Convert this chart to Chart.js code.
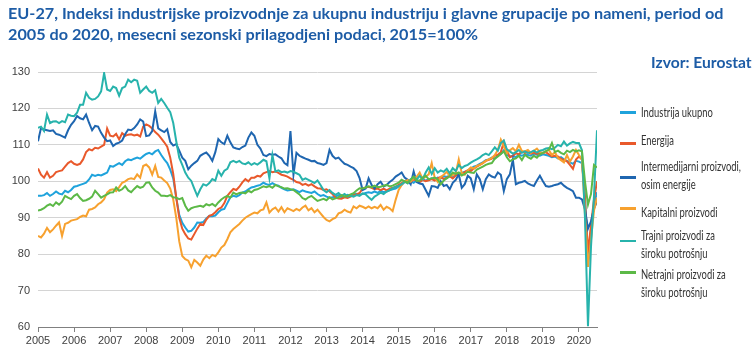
<!DOCTYPE html>
<html>
<head>
<meta charset="utf-8">
<script src="https://cdn.jsdelivr.net/npm/chart.js@4.4.1/dist/chart.umd.min.js"></script>
<style>
  html, body { margin: 0; padding: 0; background: #fff; }
  #wrap { position: relative; width: 756px; height: 358px; overflow: hidden; }
  #chart { position: absolute; left: 0; top: 0; }
  .title { position: absolute; left: 8px; top: 3px; color: #1d5ca6; font: bold 15px Lato, "Open Sans", sans-serif; line-height: 21px; white-space: nowrap; transform-origin: left top; }
  .title span { display: inline-block; }
  .source { position: absolute; right: 4px; top: 52px; color: #1d5ca6; font: bold 15px Lato, "Open Sans", sans-serif; line-height: 20px; white-space: nowrap; transform-origin: right top; }
  .lg-line { position: absolute; left: 620px; width: 16px; height: 2.5px; }
  .lg-text { position: absolute; left: 641px; color: #333; font: 12.5px Lato, "Open Sans", sans-serif; line-height: 18.4px; white-space: nowrap; transform-origin: left top; }
  .lg-text span { display: inline-block; }
</style>
</head>
<body>
<div id="wrap">
  <canvas id="chart" width="756" height="358"></canvas>
  <div class="title" id="title"><span id="t1">EU-27, Indeksi industrijske proizvodnje za ukupnu industriju i glavne grupacije po nameni, period od</span><br><span>2005 do 2020, mesecni sezonski prilagodjeni podaci, 2015=100%</span></div>
  <div class="source" id="source">Izvor: Eurostat</div>
  <div id="legend"></div>
</div>
<script>
// tick labels on the x axis (one per January)
const years = [2005, 2006, 2007, 2008, 2009, 2010, 2011, 2012, 2013, 2014, 2015, 2016, 2017, 2018, 2019, 2020];

// monthly values Jan 2005 - Jul 2020
const industrija = [
  96.0, 96.0, 96.2, 96.8, 96.0, 96.5, 97.2, 96.6, 96.4, 97.4, 97.0, 97.6,
  98.5, 98.7, 99.0, 99.3, 99.6, 100.5, 101.8, 101.5, 101.8, 101.6, 102.0, 102.4,
  104.2, 104.0, 104.5, 105.0, 104.5, 105.5, 106.0, 105.8, 106.2, 106.5, 106.2, 106.9,
  107.5, 107.8, 107.4, 108.2, 108.6, 107.2, 106.0, 105.0, 103.2, 100.8, 95.5, 90.8,
  88.6, 87.3, 86.2, 86.4, 87.3, 88.7, 88.6, 88.8, 89.8, 90.5, 90.4, 90.6,
  91.5, 92.2, 92.4, 94.0, 95.6, 96.0, 95.8, 96.2, 96.9, 97.2, 97.8, 98.3,
  98.5, 98.8, 99.0, 99.6, 99.2, 99.0, 99.5, 99.0, 98.8, 98.2, 97.8, 97.5,
  97.6, 97.8, 97.4, 97.0, 97.5, 97.2, 97.0, 96.8, 97.2, 96.5, 96.0, 96.2,
  95.8, 95.5, 95.6, 95.8, 96.2, 95.6, 95.8, 96.3, 96.0, 96.4, 96.6, 96.3,
  96.5, 96.8, 97.0, 96.8, 97.2, 96.8, 97.4, 97.0, 97.2, 97.5, 97.8, 98.0,
  98.5, 99.0, 99.8, 100.2, 100.0, 99.6, 100.3, 100.0, 100.6, 100.2, 100.5, 100.8,
  100.6, 101.0, 100.8, 101.4, 101.2, 101.6, 101.0, 101.8, 102.0, 102.3, 102.6, 103.0,
  103.5, 104.0, 104.3, 104.8, 105.2, 105.8, 106.0, 106.5, 106.2, 107.0, 107.5, 108.5,
  107.2, 106.8, 107.0, 106.6, 107.3, 107.0, 107.4, 107.2, 107.0, 107.6, 107.3, 107.0,
  107.4, 107.2, 107.0, 106.6, 106.8, 106.3, 106.6, 106.0, 105.6, 105.2, 104.8, 105.6,
  105.4, 105.0, 96.0, 78.0, 87.0, 93.5, 97.0
];
const energija = [
  103.5, 101.8, 101.0, 102.5, 101.0, 101.5, 102.5, 102.8, 103.0, 104.0, 105.0, 105.5,
  104.8, 104.5, 104.8, 106.0, 108.0, 108.8, 108.5, 109.2, 109.0, 109.5, 110.0, 114.5,
  112.5, 112.3, 113.0, 111.5, 113.2, 112.5, 112.8, 112.9, 112.6, 112.8, 112.3, 115.0,
  115.6, 115.2, 114.5, 113.5, 112.8, 111.8, 110.7, 109.5, 106.5, 102.0, 95.5, 90.0,
  87.0, 85.5, 84.3, 84.0, 85.5, 87.0, 88.3, 88.0, 89.5, 90.5, 90.8, 91.5,
  92.4, 92.8, 94.0, 96.0, 97.0, 97.9, 97.6, 98.5, 99.7, 100.6, 100.0, 101.0,
  101.0, 101.5, 101.3, 102.2, 102.5, 102.8, 102.5, 102.7, 102.3, 101.8, 101.6, 101.3,
  100.8, 100.4, 99.8, 99.6, 99.0, 99.3, 98.8, 99.2, 98.6, 98.1, 98.0, 97.6,
  97.8, 97.2, 96.5, 95.5, 95.3, 95.2, 95.6, 95.4, 95.8, 96.2, 96.4, 96.8,
  98.0, 98.3, 98.5, 98.2, 97.8, 98.0, 97.6, 98.0, 97.5, 98.0, 98.2, 98.5,
  99.0, 99.5, 100.0, 100.4, 99.8, 100.5, 100.2, 99.8, 100.4, 100.0, 100.3, 100.6,
  100.2, 100.8, 101.2, 100.6, 101.0, 101.4, 100.8, 101.6, 102.0, 101.8, 102.5, 103.0,
  102.8, 103.5, 104.0, 104.5, 105.0, 105.6, 105.9, 106.2, 107.0, 107.3, 108.0, 110.8,
  108.5, 106.6, 107.0, 107.7, 107.4, 108.2, 107.8, 108.0, 107.6, 107.9, 107.5, 107.8,
  107.7, 108.0, 107.4, 106.8, 107.0, 106.8, 106.2, 105.8, 105.5, 104.5, 103.4, 106.0,
  106.8, 106.0, 95.0, 80.5, 88.0, 95.0, 100.0
];
const intermedijarni = [
  111.0, 114.6, 114.2, 114.0, 113.8, 114.0, 113.0, 112.8, 112.4, 112.0, 114.0, 115.5,
  116.5, 117.9, 117.3, 117.0, 118.3, 116.0, 114.0, 115.2, 115.0, 113.3, 112.0, 111.0,
  111.2, 109.7, 110.3, 110.6, 111.2, 112.9, 114.2, 114.0, 114.6, 115.6, 117.0, 116.4,
  112.4, 112.6, 113.8, 119.2, 114.5, 114.0, 113.5, 114.3, 110.8, 109.8, 110.2, 108.4,
  106.5, 105.6, 103.3, 104.3, 105.0, 105.6, 107.0, 107.5, 107.9, 107.0, 105.6, 108.0,
  111.6, 110.7, 110.2, 112.5, 110.7, 109.3, 109.0, 108.8, 109.4, 109.8, 112.0, 113.4,
  112.5, 110.0, 109.0, 107.2, 106.9, 107.5, 107.3, 107.4, 106.8, 106.3, 105.0, 104.4,
  113.8, 101.8, 107.8, 107.0, 106.6, 106.2, 105.9, 105.5, 105.6, 105.0, 104.8, 104.5,
  105.0, 108.6, 107.0, 106.2, 106.5, 105.6, 104.8, 104.5, 104.0, 103.6, 102.8, 100.9,
  97.6, 98.0, 100.8, 99.0, 98.0, 99.2, 99.9, 98.6, 99.0, 99.8, 100.4, 101.3,
  101.8, 102.4, 101.0, 100.4, 99.2, 102.7, 99.8, 99.4, 99.2, 97.6, 96.0, 98.7,
  98.6, 98.2, 100.0, 98.7, 99.0, 97.8, 99.6, 100.4, 101.9, 98.2, 99.2, 101.5,
  100.8, 97.8, 101.9, 100.6, 97.8, 100.6, 101.9, 101.3, 101.0, 102.4, 101.8, 97.3,
  100.6, 101.9, 106.0, 99.2, 99.6, 99.8, 100.1, 99.4, 99.0, 98.7, 100.2, 101.5,
  100.0, 98.7, 98.5, 98.7, 99.0, 99.2, 99.6, 98.8, 98.2, 97.8, 97.3, 95.5,
  95.5, 95.0, 92.3, 87.0, 89.0, 92.5, 94.5
];
const kapitalni = [
  85.0, 84.6, 85.6, 87.2, 86.0, 86.8, 87.8, 88.7, 85.0, 88.3, 88.6, 89.2,
  89.4, 89.6, 90.2, 90.6, 90.4, 92.2, 92.4, 92.8, 93.7, 94.2, 95.1, 96.9,
  97.6, 97.8, 97.3, 98.4, 99.6, 100.0, 100.6, 100.8, 100.6, 101.9, 101.0, 104.2,
  104.6, 103.8, 101.8, 104.2, 101.2, 101.0, 100.2, 99.5, 98.0, 95.0, 90.0, 83.5,
  79.5, 78.6, 78.2, 76.4, 78.4, 77.7, 76.8, 78.5, 79.6, 78.9, 79.8, 79.4,
  80.5, 81.8, 82.5, 84.1, 86.0, 86.9, 87.6, 88.3, 89.2, 90.0, 90.5, 91.0,
  91.4, 91.2, 92.0, 92.3, 94.2, 91.4, 92.3, 92.8, 91.7, 92.9, 91.5, 92.6,
  92.2, 91.8, 92.4, 92.0, 92.8, 93.3, 92.0, 92.6, 91.5, 92.2, 91.2, 90.2,
  89.4, 89.0, 89.6, 90.0, 91.2, 91.5, 92.2, 91.7, 91.4, 93.1, 92.6, 93.3,
  93.0, 92.6, 93.1, 92.6, 93.0, 92.6, 93.5, 92.2, 93.0, 92.6, 91.8, 94.9,
  97.6, 99.0, 99.9, 100.3, 99.9, 100.9, 101.2, 102.4, 100.6, 101.3, 101.9, 105.0,
  101.0, 99.8, 101.2, 101.8, 102.6, 101.5, 101.7, 102.2, 106.0, 102.2, 101.8, 103.0,
  103.8, 103.5, 104.2, 104.5, 105.0, 105.6, 106.0, 106.4, 107.2, 108.6, 111.4, 109.5,
  107.7, 108.5, 109.1, 108.2, 110.0, 108.3, 108.2, 108.6, 107.8, 108.4, 109.0, 108.0,
  107.8, 108.2, 108.6, 107.2, 108.0, 106.4, 105.8, 105.2, 107.2, 105.4, 106.8, 108.6,
  107.2, 106.0, 91.0, 76.5, 84.0, 92.0, 95.5
];
const trajni = [
  114.7, 115.0, 113.8, 118.3, 116.0, 116.4, 116.5, 116.0, 116.5, 116.2, 118.3, 118.0,
  117.9, 118.8, 121.0, 121.0, 124.3, 122.9, 122.4, 122.6, 123.3, 124.7, 129.7, 125.2,
  124.8, 126.0, 125.6, 123.5, 125.6, 126.0, 127.9, 127.2, 127.9, 127.6, 124.3, 125.2,
  126.0, 124.8, 124.3, 125.0, 121.5, 122.6, 121.5, 120.2, 119.0, 116.0, 111.0, 106.5,
  104.5, 102.4, 101.0, 100.1, 98.0, 96.0, 97.8, 99.2, 98.8, 99.5, 100.6, 100.2,
  102.9, 101.5, 102.9, 103.4, 105.2, 105.6, 105.2, 105.6, 104.9, 104.7, 105.2, 104.5,
  105.0, 104.6, 105.2, 105.9, 105.5, 100.8, 107.2, 102.7, 103.0, 102.5, 102.7, 102.4,
  102.8, 102.6, 102.2, 101.8, 100.4, 100.8, 100.4, 100.0, 99.5, 100.2, 99.0, 97.6,
  97.0, 97.6, 96.8, 96.3, 96.8, 96.0, 96.5, 95.8, 96.0, 95.8, 96.2, 96.0,
  96.7, 96.4, 95.6, 94.9, 95.8, 96.3, 96.9, 96.5, 97.2, 97.6, 98.1, 98.5,
  98.7, 99.2, 99.9, 99.4, 100.6, 101.2, 100.5, 101.5, 100.6, 102.4, 103.8, 102.0,
  103.6, 102.4, 103.0, 102.6, 103.4, 102.2, 103.6, 102.8, 104.5, 103.6, 104.2, 104.5,
  105.1, 105.6, 106.0, 106.5, 107.2, 107.6, 107.2, 108.2, 109.3, 108.4, 110.5, 111.2,
  108.8, 108.2, 107.6, 108.0, 108.6, 107.8, 108.2, 107.8, 108.0, 108.4, 107.9, 108.4,
  108.6, 109.0, 109.1, 108.8, 109.2, 110.0, 109.6, 110.9, 109.8, 110.4, 110.8, 110.5,
  110.5, 108.5, 90.0, 60.2, 82.0, 96.0, 114.0
];
const netrajni = [
  92.0, 92.2, 92.6, 93.3, 93.7, 93.2, 94.2, 93.6, 94.4, 96.0, 95.5, 95.1,
  96.0, 96.5, 95.4, 94.6, 94.8, 95.2, 95.8, 97.4, 96.5, 95.5, 96.0, 96.4,
  96.9, 97.0, 98.3, 97.4, 97.8, 98.7, 97.5, 97.0, 97.9, 98.7, 98.2, 98.5,
  99.6, 99.7, 98.3, 97.4, 96.9, 96.0, 96.0, 95.9, 96.2, 95.6, 95.5, 95.1,
  95.4, 93.3, 91.9, 92.6, 92.9, 93.1, 93.3, 93.0, 93.7, 93.4, 93.8, 93.2,
  94.2, 95.0, 95.6, 96.0, 95.5, 96.9, 96.4, 96.8, 96.9, 96.7, 97.4, 97.0,
  97.6, 97.8, 98.2, 98.6, 98.4, 98.7, 98.2, 99.0, 98.6, 98.4, 98.0, 98.1,
  97.8, 97.6, 97.0, 96.4, 95.4, 95.0, 95.6, 96.0, 95.3, 94.6, 94.9, 95.2,
  94.8, 95.6, 95.0, 95.3, 95.6, 96.2, 95.8, 96.0, 96.4, 96.7, 97.5, 98.1,
  98.0, 98.3, 98.6, 98.4, 98.8, 98.4, 98.5, 98.8, 99.0, 98.6, 98.8, 99.2,
  99.6, 100.4, 100.0, 99.6, 100.4, 101.3, 100.1, 100.2, 101.0, 101.5, 100.6, 100.8,
  101.0, 100.5, 99.2, 100.2, 100.8, 101.4, 102.4, 102.0, 102.4, 101.6, 102.0, 102.6,
  102.4, 102.3, 103.2, 103.6, 104.0, 104.5, 104.8, 105.0, 106.2, 106.8, 107.5, 108.2,
  106.6, 105.5, 106.0, 106.3, 107.0, 105.8, 107.3, 106.6, 106.2, 107.0, 106.5, 107.4,
  107.8, 108.3, 108.7, 110.5, 108.0, 108.4, 107.8, 107.4, 108.4, 108.0, 108.6, 108.2,
  108.5, 108.2, 100.0, 93.6, 96.5, 104.5, 103.8
];

const legendLines = [
  ['Industrija ukupno'],
  ['Energija'],
  ['Intermedijarni proizvodi,', 'osim energije'],
  ['Kapitalni proizvodi'],
  ['Trajni proizvodi za', 'široku potrošnju'],
  ['Netrajni proizvodi za', 'široku potrošnju']
];
const seriesData = [industrija, energija, intermedijarni, kapitalni, trajni, netrajni];
const colors = ['#1fa3dc', '#e9592b', '#1f66b0', '#f7a12f', '#27b3ac', '#5cb947'];

// legend placement (text top, marker centre) in page pixels
const legendTextTop = [103.5, 131.5, 158, 203.5, 226.5, 265.8];
const legendMarkY = [112.7, 143.3, 177.3, 208.3, 241, 272.7];

const legend = document.getElementById('legend');
const legendTexts = [];
legendLines.forEach((lines, k) => {
  const ln = document.createElement('div');
  ln.className = 'lg-line';
  ln.style.top = (legendMarkY[k] - 1.25) + 'px';
  ln.style.background = colors[k];
  legend.appendChild(ln);
  const tx = document.createElement('div');
  tx.className = 'lg-text';
  tx.style.top = legendTextTop[k] + 'px';
  tx.innerHTML = lines.map(s => '<span>' + s + '</span>').join('<br>');
  legend.appendChild(tx);
  legendTexts.push(tx);
});

// squeeze the substitute fonts to the widths of the original font
// (offsetWidth ignores transforms, so this can run more than once)
function fitWidths() {
  const title = document.getElementById('title');
  const t1 = document.getElementById('t1');
  title.style.transform = 'scaleX(' + (716 / t1.offsetWidth) + ')';
  const src = document.getElementById('source');
  src.style.transform = 'scaleX(' + (101 / src.offsetWidth) + ')';
  const ref = legendTexts[2].querySelector('span');
  const k = 100 / ref.offsetWidth;
  legendTexts.forEach(tx => { tx.style.transform = 'scaleX(' + k + ')'; });
}
fitWidths();
if (document.fonts && document.fonts.ready) document.fonts.ready.then(fitWidths);

const tickFont = { family: '"Liberation Sans", Arial, sans-serif', size: 11 };

new Chart(document.getElementById('chart'), {
  type: 'line',
  data: {
    datasets: seriesData.map((vals, k) => ({
      label: legendLines[k].join(' '),
      data: vals.map((v, i) => ({ x: i, y: v })),
      borderColor: colors[k],
      backgroundColor: colors[k],
      borderWidth: 2,
      pointRadius: 0,
      tension: 0,
      fill: false,
      order: seriesData.length - k
    }))
  },
  options: {
    responsive: false,
    animation: false,
    layout: { padding: { left: 0, top: 72, right: 159, bottom: 0 } },
    plugins: {
      legend: { display: false },
      title: { display: false },
      tooltip: { enabled: false }
    },
    scales: {
      x: {
        type: 'linear',
        min: 0,
        max: 186,
        afterFit: (scale) => { scale.height = 31; },
        afterBuildTicks: (scale) => {
          scale.ticks = years.map((y, k) => ({ value: k * 12 }));
        },
        ticks: {
          callback: (value) => String(years[0] + value / 12),
          color: '#404040',
          font: tickFont,
          maxRotation: 0,
          autoSkip: false,
          padding: 2
        },
        grid: { drawOnChartArea: false, drawTicks: true, tickLength: 5, color: '#808080' },
        border: { display: true, color: '#808080', width: 1 }
      },
      y: {
        min: 60,
        max: 130,
        afterFit: (scale) => { scale.width = 38; },
        ticks: { stepSize: 10, color: '#404040', font: tickFont, padding: 8 },
        grid: { color: '#d4d4d4', drawTicks: false, lineWidth: 1 },
        border: { display: false }
      }
    }
  }
});
</script>
</body>
</html>
